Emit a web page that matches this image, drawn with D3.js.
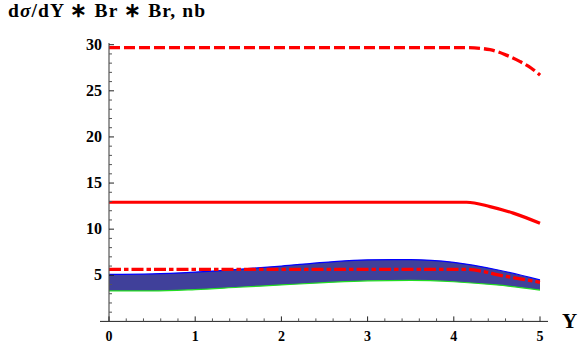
<!DOCTYPE html>
<html>
<head>
<meta charset="utf-8">
<script src="https://cdn.jsdelivr.net/npm/d3@7"></script>
<style>
  body { margin: 0; background: #fff; }
</style>
</head>
<body>
<svg id="chart" width="578" height="343"></svg>
<script>
// values
const xTicks = [0, 1, 2, 3, 4, 5];
const yTicks = [5, 10, 15, 20, 25, 30];

const dashedY = [0, 4.15, 4.42, 4.61, 4.77, 4.9, 5];
const dashedV = [29.68, 29.68, 29.46, 28.87, 28.17, 27.45, 26.7];

const solidY = [0, 4.15, 4.42, 4.69, 5];
const solidV = [12.92, 12.92, 12.45, 11.74, 10.64];

const dashDotY = [0, 4.15, 4.35, 4.53, 4.75, 5];
const dashDotV = [5.65, 5.65, 5.4, 5.02, 4.65, 4.24];

const bandY = [0, 0.5, 1, 1.5, 2, 2.5, 3, 3.5, 4, 4.5, 5];
const bandHigh = [5.1, 5.15, 5.35, 5.65, 6.0, 6.4, 6.68, 6.7, 6.4, 5.6, 4.5];
const bandLow = [3.3, 3.3, 3.45, 3.7, 3.95, 4.2, 4.4, 4.45, 4.3, 3.95, 3.4];

const FONT = "'Liberation Serif', 'Times New Roman', serif";

const svg = d3.select("#chart");

const x = d3.scaleLinear().domain([0, 5]).range([109, 540]);
const y = d3.scaleLinear().domain([0, 30]).range([321.4, 44.7]);

const zip = (a, b) => a.map((d, i) => [d, b[i]]);

// band
const band = bandY.map((d, i) => ({ t: d, lo: bandLow[i], hi: bandHigh[i] }));
svg.append("path")
  .datum(band)
  .attr("fill", "#40409a")
  .attr("d", d3.area().curve(d3.curveMonotoneX)
    .x(d => x(d.t)).y0(d => y(d.lo)).y1(d => y(d.hi)));

const line = d3.line().curve(d3.curveMonotoneX).x(d => x(d[0])).y(d => y(d[1]));

svg.append("path").datum(zip(bandY, bandHigh))
  .attr("fill", "none").attr("stroke", "#0000ff").attr("stroke-width", 1.2)
  .attr("d", line);
svg.append("path").datum(zip(bandY, bandLow))
  .attr("fill", "none").attr("stroke", "#22dd22").attr("stroke-width", 1.2)
  .attr("d", line);

// red curves
svg.append("path").datum(zip(dashedY, dashedV))
  .attr("fill", "none").attr("stroke", "#ff0000").attr("stroke-width", 3.3)
  .attr("stroke-dasharray", "11,4")
  .attr("d", line);

svg.append("path").datum(zip(solidY, solidV))
  .attr("fill", "none").attr("stroke", "#ff0000").attr("stroke-width", 3.2)
  .attr("d", line);

svg.append("path").datum(zip(dashDotY, dashDotV))
  .attr("fill", "none").attr("stroke", "#ff0000").attr("stroke-width", 3.3)
  .attr("stroke-dasharray", "12,3,4.5,3")
  .attr("d", line);

// axes
const xMinor = d3.range(0, 5.01, 0.2).filter(v => Math.abs(v - Math.round(v)) > 0.01);
const yMinor = d3.range(1, 30.01, 1).filter(v => v % 5 !== 0);

svg.append("line")
  .attr("x1", 100).attr("x2", 548).attr("y1", y(0)).attr("y2", y(0))
  .attr("stroke", "#222").attr("stroke-width", 1);
svg.append("line")
  .attr("x1", x(0)).attr("x2", x(0)).attr("y1", y(0)).attr("y2", 43)
  .attr("stroke", "#555").attr("stroke-width", 1.2);

svg.selectAll(".xmaj").data(xTicks).enter().append("line")
  .attr("x1", d => x(d)).attr("x2", d => x(d))
  .attr("y1", y(0)).attr("y2", y(0) - 5)
  .attr("stroke", "#222");
svg.selectAll(".xmin").data(xMinor).enter().append("line")
  .attr("x1", d => x(d)).attr("x2", d => x(d))
  .attr("y1", y(0)).attr("y2", y(0) - 3)
  .attr("stroke", "#555");
svg.selectAll(".ymaj").data(yTicks).enter().append("line")
  .attr("x1", x(0)).attr("x2", x(0) + 5)
  .attr("y1", d => y(d)).attr("y2", d => y(d))
  .attr("stroke", "#222");
svg.selectAll(".ymin").data(yMinor).enter().append("line")
  .attr("x1", x(0)).attr("x2", x(0) + 3)
  .attr("y1", d => y(d)).attr("y2", d => y(d))
  .attr("stroke", "#555");

svg.selectAll(".xlab").data(xTicks).enter().append("text")
  .attr("x", d => x(d)).attr("y", 341)
  .attr("text-anchor", "middle")
  .attr("font-family", FONT).attr("font-weight", "bold").attr("font-size", 14)
  .text(d => d);
svg.selectAll(".ylab").data(yTicks).enter().append("text")
  .attr("x", 102).attr("y", d => y(d) + 5)
  .attr("text-anchor", "end")
  .attr("font-family", FONT).attr("font-weight", "bold").attr("font-size", 16)
  .text(d => d);

// titles
const title = svg.append("text").attr("x", 8).attr("y", 17)
  .attr("font-family", FONT).attr("font-weight", "bold").attr("font-size", 19.5)
  .attr("textLength", 197).attr("lengthAdjust", "spacing");
title.append("tspan").text("d");
title.append("tspan").attr("font-style", "italic").text("σ");
title.append("tspan").text("/dY ∗ Br ∗ Br, nb");

svg.append("text").attr("x", 562).attr("y", 328)
  .attr("font-family", FONT).attr("font-weight", "bold").attr("font-size", 21)
  .text("Y");
</script>
</body>
</html>
